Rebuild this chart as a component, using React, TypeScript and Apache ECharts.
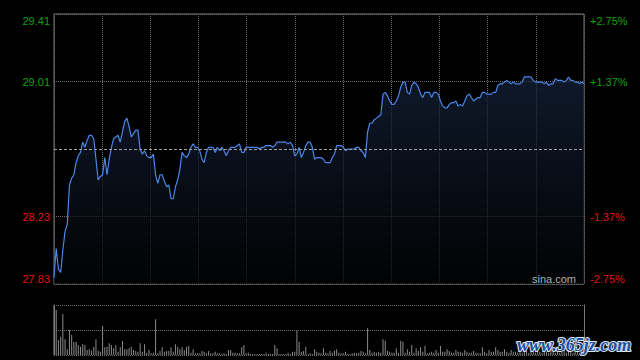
import React, { useEffect, useRef } from "react";
import * as echarts from "echarts";

// Previous close and the chart's price range (±2.75%)
const prevClose = 28.62;
const priceMin = 27.833;
const priceMax = 29.407;

// One price per trading minute (241 minutes: 9:30–11:30, 13:00–15:00)
const prices = [
  27.87, 28.04, 27.92, 27.90, 28.03, 28.14, 28.18, 28.41, 28.45, 28.47,
  28.54, 28.58, 28.60, 28.66, 28.63, 28.67, 28.70, 28.70, 28.68, 28.56,
  28.44, 28.46, 28.47, 28.57, 28.47, 28.56, 28.63, 28.68, 28.69, 28.70,
  28.66, 28.72, 28.78, 28.80, 28.75, 28.69, 28.71, 28.73, 28.73, 28.62,
  28.59, 28.61, 28.58, 28.57, 28.57, 28.59, 28.47, 28.42, 28.47, 28.47,
  28.43, 28.40, 28.41, 28.33, 28.33, 28.40, 28.44, 28.50, 28.60, 28.58,
  28.57, 28.59, 28.63, 28.65, 28.63, 28.63, 28.61, 28.56, 28.54, 28.60,
  28.63, 28.63, 28.63, 28.60, 28.63, 28.61, 28.63, 28.61, 28.58, 28.61,
  28.63, 28.63, 28.63, 28.64, 28.65, 28.60, 28.60, 28.63, 28.63, 28.63,
  28.63, 28.63, 28.63, 28.62, 28.63, 28.63, 28.64, 28.64, 28.64, 28.63,
  28.64, 28.66, 28.66, 28.66, 28.66, 28.66, 28.65, 28.66, 28.64, 28.58,
  28.59, 28.63, 28.57, 28.60, 28.64, 28.66, 28.66, 28.63, 28.56, 28.57,
  28.57, 28.57, 28.56, 28.54, 28.54, 28.54, 28.57, 28.59, 28.64, 28.64,
  28.64, 28.63, 28.61, 28.62, 28.62, 28.62, 28.62, 28.63, 28.63, 28.61,
  28.60, 28.57, 28.72, 28.77, 28.77, 28.79, 28.80, 28.81, 28.82, 28.94,
  28.95, 28.93, 28.90, 28.88, 28.88, 28.90, 28.93, 28.98, 29.01, 29.01,
  28.95, 28.94, 28.99, 29.01, 29.00, 28.98, 28.94, 28.92, 28.95, 28.95,
  28.95, 28.92, 28.95, 28.95, 28.94, 28.90, 28.87, 28.86, 28.86, 28.88,
  28.89, 28.89, 28.90, 28.87, 28.88, 28.87, 28.90, 28.93, 28.94, 28.92,
  28.90, 28.91, 28.92, 28.92, 28.95, 28.95, 28.94, 28.94, 28.94, 28.95,
  28.95, 28.99, 29.00, 29.00, 29.01, 29.02, 29.01, 29.00, 29.01, 29.00,
  29.00, 29.00, 29.01, 29.04, 29.04, 29.04, 29.04, 29.02, 29.01, 29.01,
  29.01, 29.01, 29.00, 29.01, 28.99, 29.00, 29.00, 29.03, 29.02, 29.02,
  29.02, 29.01, 29.02, 29.04, 29.02, 29.02, 29.01, 29.01, 29.00, 29.01,
  29.00,
];

// Volume per minute (hundreds of lots)
const volumes = [
  500, 450, 150, 183, 410, 157, 57, 250, 200, 130,
  133, 100, 83, 110, 100, 50, 57, 43, 83, 157,
  43, 33, 290, 77, 83, 117, 100, 67, 100, 33,
  77, 140, 57, 57, 67, 83, 50, 40, 33, 117,
  33, 107, 23, 50, 17, 23, 357, 17, 40, 77,
  33, 40, 40, 77, 33, 107, 83, 57, 77, 50,
  83, 90, 23, 57, 17, 17, 17, 40, 33, 17,
  40, 17, 17, 33, 17, 17, 10, 17, 10, 50,
  50, 23, 23, 17, 17, 77, 100, 17, 23, 10,
  10, 10, 10, 10, 10, 10, 23, 10, 10, 10,
  100, 67, 10, 10, 10, 10, 23, 10, 33, 33,
  243, 133, 33, 40, 83, 10, 17, 10, 57, 33,
  23, 17, 67, 23, 17, 40, 23, 43, 57, 23,
  17, 17, 33, 10, 10, 17, 23, 17, 23, 40,
  33, 17, 267, 50, 23, 33, 23, 33, 23, 157,
  143, 43, 33, 23, 23, 67, 23, 143, 133, 23,
  57, 33, 100, 23, 67, 40, 77, 33, 90, 17,
  23, 33, 23, 50, 23, 90, 33, 33, 57, 40,
  23, 23, 50, 33, 33, 23, 50, 33, 23, 23,
  40, 23, 17, 17, 77, 33, 17, 50, 33, 33,
  77, 50, 33, 33, 57, 33, 23, 50, 33, 33,
  23, 40, 23, 33, 50, 23, 33, 40, 23, 67,
  33, 23, 40, 33, 23, 50, 33, 23, 40, 23,
  33, 50, 23, 40, 33, 23, 33, 40, 23, 33,
  50,
];

const volumeMax = 500;
const minutesTotal = 240;
const verticalDivisions = 11;

const GREEN = "#12a012";
const RED = "#e01515";
const GRID = "#6a6a6a";
const FONT = '"Liberation Sans", Arial, sans-serif';

export default function App() {
  const ref = useRef<HTMLDivElement>(null);

  useEffect(() => {
    if (!ref.current) return;
    const chart = echarts.init(ref.current, undefined, { renderer: "svg" });
    const priceInterval = (priceMax - priceMin) / 4;
    const isMid = (v: number) => Math.abs(v - prevClose) < 1e-6;
    const isTop = (v: number) => Math.abs(v - priceMax) < 1e-6;

    const richStyles = {
      g: { color: GREEN, fontSize: 11, fontFamily: FONT },
      r: { color: RED, fontSize: 11, fontFamily: FONT },
      gt: { color: GREEN, fontSize: 11, fontFamily: FONT, padding: [13, 0, 0, 0] },
    };

    const option: any = {
      animation: false,
      backgroundColor: "#000",
      grid: [
        { left: 54, top: 14, width: 530, height: 270, show: true, borderColor: "#767676", borderWidth: 1, backgroundColor: "transparent" },
        { left: 54, top: 305, width: 530, height: 50, show: false },
      ],
      xAxis: [
        {
          type: "value", gridIndex: 0, min: 0, max: minutesTotal,
          interval: minutesTotal / verticalDivisions,
          axisLine: { show: false }, axisTick: { show: false }, axisLabel: { show: false },
          splitLine: { show: true, lineStyle: { color: GRID, type: [1, 1], width: 1 } },
        },
        {
          type: "value", gridIndex: 1, min: 0, max: minutesTotal,
          axisLine: { show: false }, axisTick: { show: false }, axisLabel: { show: false },
          splitLine: { show: false },
        },
      ],
      yAxis: [
        {
          type: "value", gridIndex: 0, position: "left",
          min: priceMin, max: priceMax, interval: priceInterval,
          axisLine: { show: false }, axisTick: { show: false },
          splitLine: {
            show: true,
            lineStyle: { color: [GRID, GRID, "rgba(0,0,0,0)", GRID, GRID], type: [1, 1], width: 1 },
          },
          axisLabel: {
            margin: 4,
            fontSize: 11,
            fontFamily: FONT,
            verticalAlignMinLabel: "bottom",
            formatter: (v: number) => {
              if (isMid(v)) return "";
              const s = v.toFixed(2);
              if (isTop(v)) return `{gt|${s}}`;
              return v > prevClose ? `{g|${s}}` : `{r|${s}}`;
            },
            rich: richStyles,
          },
        },
        {
          type: "value", gridIndex: 0, position: "right",
          min: priceMin, max: priceMax, interval: priceInterval,
          axisLine: { show: false }, axisTick: { show: false }, splitLine: { show: false },
          axisLabel: {
            margin: 6,
            fontSize: 11,
            fontFamily: FONT,
            verticalAlignMinLabel: "bottom",
            formatter: (v: number) => {
              if (isMid(v)) return "";
              const pct = ((v - prevClose) / prevClose) * 100;
              const s = (pct > 0 ? "+" : "") + pct.toFixed(2) + "%";
              if (isTop(v)) return `{gt|${s}}`;
              return pct > 0 ? `{g|${s}}` : `{r|${s}}`;
            },
            rich: richStyles,
          },
        },
        {
          type: "value", gridIndex: 1, position: "left",
          min: 0, max: volumeMax, interval: volumeMax / 2,
          axisLine: { show: true, lineStyle: { color: "#767676", width: 1 } },
          axisTick: { show: false }, axisLabel: { show: false },
          splitLine: { show: true, lineStyle: { color: GRID, type: [1, 1], width: 1 } },
        },
        {
          type: "value", gridIndex: 1, position: "right",
          min: 0, max: volumeMax, interval: volumeMax / 2,
          axisLine: { show: true, lineStyle: { color: "#767676", width: 1 } },
          axisTick: { show: false }, axisLabel: { show: false },
          splitLine: { show: false },
        },
      ],
      series: [
        {
          type: "line",
          xAxisIndex: 0,
          yAxisIndex: 0,
          data: prices.map((p, i) => [i, p]),
          showSymbol: false,
          symbol: "none",
          lineStyle: { color: "#4a86e8", width: 1.2 },
          areaStyle: {
            origin: "start",
            color: new echarts.graphic.LinearGradient(0, 0, 0, 1, [
              { offset: 0, color: "#15233b" },
              { offset: 1, color: "#020305" },
            ]),
          },
          markLine: {
            silent: true,
            symbol: ["none", "none"],
            label: { show: false },
            lineStyle: { color: "#a0a0a0", type: [3, 2], width: 1 },
            data: [{ yAxis: prevClose }],
          },
          z: 3,
        },
        {
          type: "bar",
          xAxisIndex: 1,
          yAxisIndex: 2,
          data: volumes.map((v, i) => [i, v]),
          barWidth: 1,
          itemStyle: { color: "#8a8a8a" },
        },
      ],
      graphic: [
        {
          type: "text",
          left: 532,
          top: 273,
          style: { text: "sina.com", fill: "#b0b0b0", font: `11px ${FONT}` },
          z: 10,
        },
        {
          type: "text",
          left: 516,
          top: 335,
          style: {
            text: "www.365jz.com",
            fill: "#1d4f9e",
            stroke: "#dfe6f0",
            lineWidth: 2,
            font: 'italic bold 18px "Liberation Serif", serif',
          },
          z: 20,
        },
      ],
    };

    chart.setOption(option);
    return () => chart.dispose();
  }, []);

  return (
    <div
      ref={ref}
      style={{ position: "fixed", left: 0, top: 0, width: 640, height: 360, background: "#000" }}
    />
  );
}
